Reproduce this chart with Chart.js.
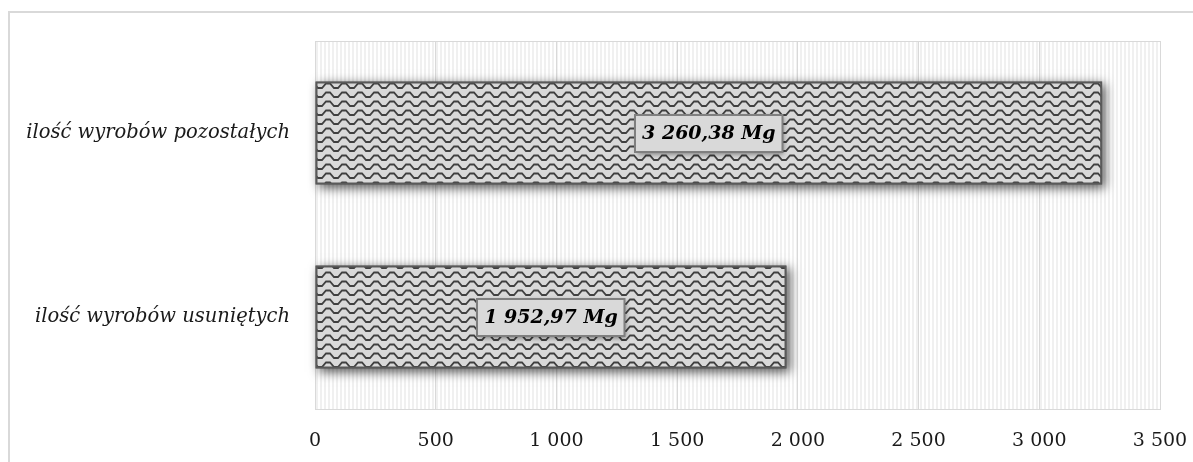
<!DOCTYPE html>
<html>
<head>
<meta charset="utf-8">
<script src="https://cdn.jsdelivr.net/npm/chart.js@4.4.1/dist/chart.umd.min.js"></script>
<style>
    html, body { margin: 0; padding: 0; background: #fff; }
    #wrap { width: 1193px; height: 462px; }
</style>
</head>
<body>
<div id="wrap"><canvas id="chart" width="1193" height="462"></canvas></div>
<script>
// ============================================
// DATA
// ============================================
const categories = ['ilość wyrobów pozostałych', 'ilość wyrobów usuniętych'];
const amounts = [3260.38, 1952.97];
const axisMin = 0;
const axisMax = 3500;
const axisStep = 500;
const unit = 'Mg';

// ============================================
// HELPERS
// ============================================
function groupThousands(str) {
    return str.replace(/\B(?=(\d{3})+(?!\d))/g, ' ');
}

function formatAmount(v) {
    const parts = v.toFixed(2).split('.');
    return groupThousands(parts[0]) + ',' + parts[1] + ' ' + unit;
}

// wavy hatch used to fill the bars
function makeWavePattern() {
    const c = document.createElement('canvas');
    c.width = 16;
    c.height = 9;
    const g = c.getContext('2d');
    g.fillStyle = '#d9d9d9';
    g.fillRect(0, 0, 16, 9);
    g.strokeStyle = '#404040';
    g.lineWidth = 1.8;
    g.beginPath();
    g.moveTo(-1, 7);
    g.lineTo(2, 7);
    g.lineTo(6, 2.5);
    g.lineTo(10, 2.5);
    g.lineTo(14, 7);
    g.lineTo(17, 7);
    g.stroke();
    return g.createPattern(c, 'repeat');
}

// light vertical stripes behind the plot
function makeStripePattern() {
    const c = document.createElement('canvas');
    c.width = 4;
    c.height = 4;
    const g = c.getContext('2d');
    g.fillStyle = '#ffffff';
    g.fillRect(0, 0, 4, 4);
    g.fillStyle = '#f0f0f0';
    g.fillRect(0, 0, 2, 4);
    return g.createPattern(c, 'repeat');
}

const ctx = document.getElementById('chart').getContext('2d');
const wavePattern = makeWavePattern();
const stripePattern = makeStripePattern();

// ============================================
// PLUGINS
// ============================================
const backgroundPlugin = {
    id: 'backgroundPlugin',
    beforeDraw(chart) {
        const c = chart.ctx;
        const a = chart.chartArea;
        c.save();
        c.strokeStyle = '#d9d9d9';
        c.lineWidth = 2;
        c.strokeRect(9, 12, 1300, 600);
        c.fillStyle = stripePattern;
        c.fillRect(a.left, a.top, a.right - a.left, a.bottom - a.top);
        c.restore();
    },
    beforeDatasetsDraw(chart) {
        const c = chart.ctx;
        const a = chart.chartArea;
        c.save();
        c.strokeStyle = '#d9d9d9';
        c.lineWidth = 1;
        c.strokeRect(a.left + 0.5, a.top + 0.5, a.right - a.left, a.bottom - a.top);

        // soft shadow under each bar
        const meta = chart.getDatasetMeta(0);
        c.shadowColor = 'rgba(0, 0, 0, 0.65)';
        c.shadowBlur = 10;
        c.shadowOffsetX = 3;
        c.shadowOffsetY = 3;
        c.fillStyle = '#595959';
        meta.data.forEach(bar => {
            const p = bar.getProps(['x', 'y', 'base', 'height'], true);
            c.fillRect(p.base, p.y - p.height / 2, p.x - p.base, p.height);
        });
        c.restore();
    },
    afterDatasetsDraw(chart) {
        const c = chart.ctx;
        const meta = chart.getDatasetMeta(0);
        c.save();
        c.font = 'italic bold 19px "DejaVu Serif"';
        c.textAlign = 'center';
        c.textBaseline = 'middle';
        meta.data.forEach((bar, i) => {
            const p = bar.getProps(['x', 'y', 'base'], true);
            const text = formatAmount(amounts[i]);
            const w = c.measureText(text).width + 14;
            const h = 37;
            const cx = (p.x + p.base) / 2;
            const x0 = Math.round(cx - w / 2);
            const y0 = Math.round(p.y - h / 2);

            c.save();
            c.shadowColor = 'rgba(0, 0, 0, 0.45)';
            c.shadowBlur = 5;
            c.shadowOffsetX = 2;
            c.shadowOffsetY = 2;
            c.fillStyle = '#d9d9d9';
            c.fillRect(x0, y0, w, h);
            c.restore();

            c.strokeStyle = '#7f7f7f';
            c.lineWidth = 2;
            c.strokeRect(x0, y0, w, h);

            c.fillStyle = '#000000';
            c.fillText(text, cx, p.y + 1);
        });
        c.restore();
    }
};

// ============================================
// CHART
// ============================================
new Chart(ctx, {
    type: 'bar',
    data: {
        labels: categories,
        datasets: [{
            data: amounts,
            backgroundColor: wavePattern,
            borderColor: '#595959',
            borderWidth: 2,
            borderSkipped: false,
            categoryPercentage: 1,
            barPercentage: 0.56
        }]
    },
    options: {
        indexAxis: 'y',
        responsive: false,
        animation: false,
        layout: {
            padding: { top: 41, right: 33, bottom: 0, left: 0 }
        },
        plugins: {
            legend: { display: false },
            tooltip: { enabled: false }
        },
        scales: {
            x: {
                min: axisMin,
                max: axisMax,
                afterFit(scale) {
                    scale.height = 53;
                    scale.paddingLeft = 0;
                    scale.paddingRight = 0;
                },
                grid: {
                    color: '#d9d9d9',
                    drawTicks: false,
                    tickLength: 0
                },
                border: { display: false },
                ticks: {
                    stepSize: axisStep,
                    padding: 21,
                    color: '#1a1a1a',
                    font: { family: '"DejaVu Serif"', size: 19 },
                    callback: v => groupThousands(String(v))
                }
            },
            y: {
                afterFit(scale) {
                    scale.width = 315;
                    scale.paddingTop = 0;
                    scale.paddingBottom = 0;
                },
                grid: { display: false },
                border: { display: false },
                ticks: {
                    padding: 17,
                    color: '#1a1a1a',
                    font: { family: '"DejaVu Serif"', size: 19.5, style: 'italic' }
                }
            }
        }
    },
    plugins: [backgroundPlugin]
});
</script>
</body>
</html>
